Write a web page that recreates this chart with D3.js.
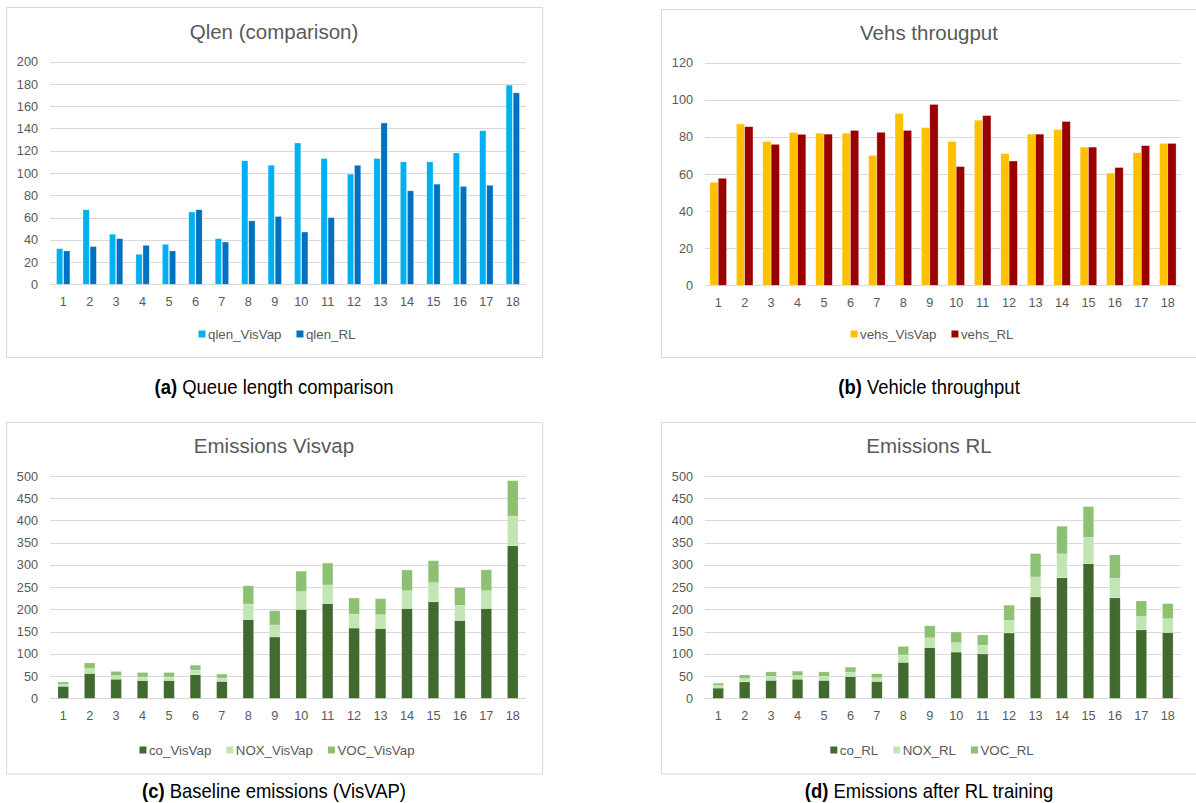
<!DOCTYPE html>
<html>
<head>
<meta charset="utf-8">
<script src="https://cdn.jsdelivr.net/npm/d3@7"></script>
<style>
  html, body { margin: 0; padding: 0; background: #fff; }
  svg { display: block; font-family: "Liberation Sans", Arial, Helvetica, sans-serif; }
</style>
</head>
<body>
<svg id="fig" width="1196" height="803"></svg>
<script>
// ---- data -------------------------------------------------------------
const categories = ["1","2","3","4","5","6","7","8","9","10","11","12","13","14","15","16","17","18"];

const qlenVisVap = [32, 67, 45, 27, 36, 65, 41, 111, 107, 127, 113, 99, 113, 110, 110, 118, 138, 179];
const qlenRL     = [30, 34, 41, 35, 30, 67, 38, 57, 61, 47, 60, 107, 145, 84, 90, 88, 89, 172];
const qlenTicks  = [0, 20, 40, 60, 80, 100, 120, 140, 160, 180, 200];

const vehsVisVap = [55.5, 87, 77.6, 82.4, 82, 82, 70, 92.6, 85, 77.6, 89, 71, 81.5, 84, 74.5, 60.5, 71.5, 76.5];
const vehsRL     = [57.7, 85.5, 76, 81.4, 81.5, 83.5, 82.5, 83.5, 97.5, 64, 91.5, 67, 81.5, 88.3, 74.5, 63.5, 75.3, 76.5];
const vehsTicks  = [0, 20, 40, 60, 80, 100, 120];

const coVisVap  = [27, 56, 43, 40, 40, 53, 38, 177, 138, 200, 213, 158, 157, 202, 217, 175, 202, 343];
const noxVisVap = [4.5, 11, 8, 8, 8, 10.5, 7.5, 35, 27, 40, 42, 31.5, 31, 40, 43, 34, 40, 67];
const vocVisVap = [5, 12.5, 9.5, 10, 10, 11, 9, 41, 32, 46, 49, 36, 36, 46.5, 49.5, 40, 47, 79.5];

const coRL  = [23, 37, 40.5, 43, 40.5, 49, 38, 81, 114, 104, 100, 147, 228, 271, 303, 226, 154, 148];
const noxRL = [6, 7.5, 9, 8, 9, 10, 8, 16.5, 22, 21, 19.5, 28.5, 45, 54, 59, 44, 30, 31];
const vocRL = [5, 8, 10, 10, 10, 11, 9, 19, 27, 24, 23, 34, 52.5, 62, 69, 52.5, 35, 34];

const emisTicks = [0, 50, 100, 150, 200, 250, 300, 350, 400, 450, 500];

// ---- panels -----------------------------------------------------------
const panels = [
  {
    title: "Qlen (comparison)", tag: "(a)", caption: " Queue length comparison",
    mode: "grouped", ticks: qlenTicks,
    series: [
      { name: "qlen_VisVap", values: qlenVisVap, color: "#00B0F0" },
      { name: "qlen_RL",     values: qlenRL,     color: "#0070C0" }
    ],
    box: { x: 6, y: 7, w: 536, h: 350 },
    titleY: 32, yTop: 61.7, yZero: 284.3, legendY: 334, captionY: 387,
    outerPad: 0.493, innerPad: 0.11
  },
  {
    title: "Vehs througput", tag: "(b)", caption: " Vehicle throughput",
    mode: "grouped", ticks: vehsTicks,
    series: [
      { name: "vehs_VisVap", values: vehsVisVap, color: "#FFC000" },
      { name: "vehs_RL",     values: vehsRL,     color: "#990000" }
    ],
    box: { x: 661, y: 9, w: 536, h: 348 },
    titleY: 33, yTop: 62.7, yZero: 285.3, legendY: 334, captionY: 387,
    outerPad: 0.372, innerPad: 0
  },
  {
    title: "Emissions Visvap", tag: "(c)", caption: " Baseline emissions (VisVAP)",
    mode: "stacked", ticks: emisTicks,
    series: [
      { name: "co_VisVap",  values: coVisVap,  color: "#416A2E" },
      { name: "NOX_VisVap", values: noxVisVap, color: "#C3E4B3" },
      { name: "VOC_VisVap", values: vocVisVap, color: "#8CC172" }
    ],
    box: { x: 6, y: 422, w: 536, h: 351.5 },
    titleY: 446, yTop: 476, yZero: 698.3, legendY: 750, captionY: 790.7,
    outerPad: 0.6
  },
  {
    title: "Emissions RL", tag: "(d)", caption: " Emissions after RL training",
    mode: "stacked", ticks: emisTicks,
    series: [
      { name: "co_RL",  values: coRL,  color: "#416A2E" },
      { name: "NOX_RL", values: noxRL, color: "#C3E4B3" },
      { name: "VOC_RL", values: vocRL, color: "#8CC172" }
    ],
    box: { x: 661, y: 422, w: 536, h: 351.5 },
    titleY: 446, yTop: 476, yZero: 698.3, legendY: 750, captionY: 790.7,
    outerPad: 0.6
  }
];

const svg = d3.select("#fig");
const GRID = "#D9D9D9";
const TEXT = "#595959";

function drawPanel(p) {
  const g = svg.append("g");
  const b = p.box;
  const left = b.x + 44, right = b.x + 520;

  // chart frame
  g.append("rect")
    .attr("x", b.x + 0.5).attr("y", b.y + 0.5)
    .attr("width", b.w).attr("height", b.h)
    .attr("fill", "#fff").attr("stroke", GRID).attr("stroke-width", 1);

  // title
  g.append("text")
    .attr("x", b.x + b.w / 2).attr("y", p.titleY)
    .attr("dy", "0.35em")
    .attr("text-anchor", "middle")
    .attr("font-size", 20.5).attr("fill", TEXT)
    .text(p.title);

  const y = d3.scaleLinear()
    .domain([p.ticks[0], p.ticks[p.ticks.length - 1]])
    .range([p.yZero, p.yTop]);

  const x = d3.scaleBand()
    .domain(categories)
    .range([left, right])
    .paddingInner(p.outerPad)
    .paddingOuter(p.outerPad / 2);

  // value axis with horizontal gridlines
  const yAxis = g.append("g")
    .attr("transform", `translate(${left},0)`)
    .call(d3.axisLeft(y).tickValues(p.ticks).tickSize(-(right - left)).tickPadding(12).tickFormat(d3.format("d")));
  yAxis.select(".domain").remove();
  yAxis.selectAll(".tick line").attr("stroke", GRID).attr("stroke-width", 1)
    .attr("shape-rendering", "crispEdges");
  yAxis.selectAll(".tick text").attr("fill", TEXT).attr("font-size", 12.7)
    .attr("font-family", "Liberation Sans, Arial, sans-serif");

  // bars
  if (p.mode === "grouped") {
    const inner = d3.scaleBand()
      .domain(p.series.map(s => s.name))
      .range([0, x.bandwidth()])
      .paddingInner(p.innerPad);
    p.series.forEach(s => {
      g.append("g").selectAll("rect")
        .data(s.values)
        .join("rect")
        .attr("x", (d, i) => x(categories[i]) + inner(s.name))
        .attr("width", inner.bandwidth())
        .attr("y", d => y(d))
        .attr("height", d => y(0) - y(d))
        .attr("fill", s.color)
        .attr("stroke", "#fff").attr("stroke-width", 0.6).attr("stroke-opacity", 0.55);
    });
  } else {
    const rows = categories.map((c, i) => {
      const r = { cat: c };
      p.series.forEach(s => { r[s.name] = s.values[i]; });
      return r;
    });
    const stacked = d3.stack().keys(p.series.map(s => s.name))(rows);
    stacked.forEach((layer, k) => {
      g.append("g").selectAll("rect")
        .data(layer)
        .join("rect")
        .attr("x", d => x(d.data.cat))
        .attr("width", x.bandwidth())
        .attr("y", d => y(d[1]))
        .attr("height", d => y(d[0]) - y(d[1]))
        .attr("fill", p.series[k].color)
        .attr("stroke", "#fff").attr("stroke-width", 0.5).attr("stroke-opacity", 0.4);
    });
  }

  // category axis labels
  const xAxis = g.append("g")
    .attr("transform", `translate(0,${p.yZero})`)
    .call(d3.axisBottom(x).tickSize(0).tickPadding(12.5));
  xAxis.select(".domain").remove();
  xAxis.selectAll(".tick text").attr("fill", TEXT).attr("font-size", 12.7)
    .attr("font-family", "Liberation Sans, Arial, sans-serif");

  // legend, centered under the plot
  const leg = g.append("g");
  let cursor = 0;
  p.series.forEach((s, i) => {
    const item = leg.append("g").attr("transform", `translate(${cursor},0)`);
    item.append("rect").attr("x", 0).attr("y", -3.5).attr("width", 7).attr("height", 7).attr("fill", s.color);
    const t = item.append("text").attr("x", 9.5).attr("y", 0).attr("dy", "0.35em")
      .attr("font-size", 13.3).attr("fill", TEXT).text(s.name);
    cursor += 9.5 + t.node().getComputedTextLength() + 15;
  });
  const legW = cursor - 15;
  leg.attr("transform", `translate(${b.x + b.w / 2 - legW / 2 + 3},${p.legendY})`);

  // sub-figure caption
  const cap = svg.append("text")
    .attr("transform", `translate(${b.x + b.w / 2},${p.captionY}) scale(0.9,1)`)
    .attr("dy", "0.35em")
    .attr("text-anchor", "middle")
    .attr("font-size", 20.5).attr("fill", "#000");
  cap.append("tspan").attr("font-weight", "bold").text(p.tag);
  cap.append("tspan").text(p.caption);
}

panels.forEach(drawPanel);
</script>
</body>
</html>
